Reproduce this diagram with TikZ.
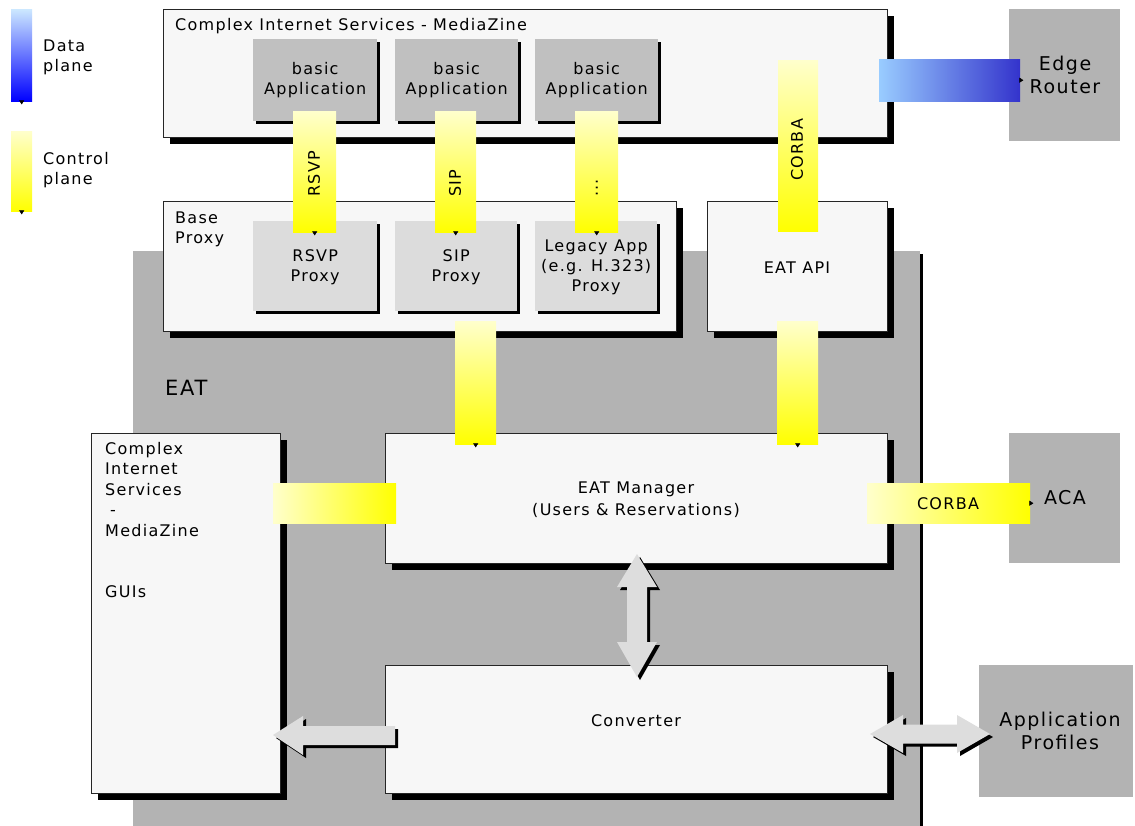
\documentclass[tikz,border=0pt]{standalone}
\usepackage{fontspec}
\setmainfont{DejaVu Sans}[LetterSpace=8]
\usetikzlibrary{shadows,arrows.meta}

\definecolor{boxfill}{HTML}{F7F7F7}
\definecolor{eatgray}{HTML}{B3B3B3}
\definecolor{appgray}{HTML}{C0C0C0}
\definecolor{proxygray}{HTML}{DCDCDC}
\definecolor{arrowgray}{HTML}{DDDDDD}
\definecolor{paleyellow}{HTML}{FFFFCC}
\definecolor{lightblue}{HTML}{99CCFF}
\definecolor{darkblue}{HTML}{3333CC}
\definecolor{skyblue}{HTML}{CCE8FF}
\definecolor{pureblue}{HTML}{0000FF}

\tikzset{
  whitebox/.style={draw=black!85, line width=1.1pt, fill=boxfill, inner sep=0pt,
    anchor=north west, drop shadow={shadow xshift=6pt, shadow yshift=-6pt, opacity=1, fill=black}},
  graybox/.style={fill=#1, inner sep=0pt, anchor=north west,
    drop shadow={shadow xshift=2.5pt, shadow yshift=-2.5pt, opacity=1, fill=black}},
  plainbox/.style={fill=#1, inner sep=0pt, anchor=north west},
  txt/.style={inner sep=0pt, align=center},
  ltxt/.style={inner sep=0pt, align=left},
  bigtxt/.style={inner sep=0pt, align=center, font=\fontsize{19}{23}\selectfont},
  vbar/.style={inner sep=0pt, anchor=north west, top color=paleyellow, bottom color=yellow},
  hbar/.style={inner sep=0pt, anchor=north west, left color=paleyellow, right color=yellow},
  blockarrow/.style={fill=arrowgray, drop shadow={shadow xshift=3pt, shadow yshift=-3pt, opacity=1, fill=black}},
  tipline/.style={-{Triangle[length=4pt,width=5pt]}, line width=0.5pt, black},
}

\begin{document}
\begin{tikzpicture}[x=1pt, y=-1pt, font=\fontsize{16}{20}\selectfont]
\useasboundingbox (0,0) rectangle (1135,825);
\fill[white] (0,0) rectangle (1135,825);

% legend
\node[inner sep=0pt, anchor=north west, top color=skyblue, bottom color=pureblue,
      minimum width=21pt, minimum height=92pt] (legdata) at (11,9) {};
\node[ltxt, anchor=west] (legdatatxt) at (43,57) {Data\\plane};
\node[vbar, minimum width=21pt, minimum height=80pt] (legctrl) at (11,131) {};
\node[ltxt, anchor=west] (legctrltxt) at (43,170) {Control\\plane};
\draw[tipline] (legdata.south) -- ++(0,3);
\draw[tipline] (legctrl.south) -- ++(0,3);

% EAT area
\node[graybox=eatgray, minimum width=787pt, minimum height=580pt] (eat) at (133,251) {};
\node[inner sep=0pt, anchor=west, font=\fontsize{21}{25}\selectfont] (eattxt) at (165,388) {EAT};

% services layer
\node[whitebox, minimum width=724pt, minimum height=128pt] (cis) at (163,9) {};
\node[ltxt, anchor=west] (cistxt) at (175,26) {Complex Internet Services - MediaZine};
\node[graybox=appgray, minimum width=124pt, minimum height=82pt] (app1) at (253,39) {};
\node[graybox=appgray, minimum width=123pt, minimum height=82pt] (app2) at (395,39) {};
\node[graybox=appgray, minimum width=123pt, minimum height=82pt] (app3) at (535,39) {};
\node[txt] at (app1.center) {basic\\Application};
\node[txt] at (app2.center) {basic\\Application};
\node[txt] at (app3.center) {basic\\Application};

% proxy layer
\node[whitebox, minimum width=513pt, minimum height=130pt] (base) at (163,201) {};
\node[ltxt, anchor=west] (basetxt) at (175,229) {Base\\Proxy};
\node[whitebox, minimum width=180pt, minimum height=130pt] (api) at (707,201) {};
\node[txt] at (797,268) {EAT API};
\node[graybox=proxygray, minimum width=124pt, minimum height=90pt] (rsvpp) at (253,221) {};
\node[graybox=proxygray, minimum width=122pt, minimum height=90pt] (sipp) at (395,221) {};
\node[graybox=proxygray, minimum width=122pt, minimum height=90pt] (legp) at (535,221) {};
\node[txt] at ([yshift=-1pt]rsvpp.center) {RSVP\\Proxy};
\node[txt] at ([yshift=-1pt]sipp.center) {SIP\\Proxy};
\node[txt] at ([yshift=-1pt]legp.center) {Legacy App\\(e.g. H.323)\\Proxy};

% core boxes
\node[whitebox, minimum width=189pt, minimum height=360pt] (gui) at (91,433) {};
\node[ltxt, anchor=north west, font=\fontsize{16}{20.5}\selectfont] (guitxt) at (105,442)
  {Complex\\Internet\\Services\\\hspace*{5pt}-\\MediaZine\\[41pt]GUIs};
\node[whitebox, minimum width=502pt, minimum height=130pt] (mgr) at (385,433) {};
\node[txt, font=\fontsize{16}{22}\selectfont] at (636,500) {EAT Manager\\(Users \& Reservations)};
\node[whitebox, minimum width=502pt, minimum height=128pt] (conv) at (385,665) {};
\node[txt] at (636,721) {Converter};

% external boxes
\node[plainbox=eatgray, minimum width=111pt, minimum height=132pt] (edge) at (1009,9) {};
\node[bigtxt] at (1065,75) {Edge\\Router};
\node[plainbox=eatgray, minimum width=111pt, minimum height=130pt] (aca) at (1009,433) {};
\node[bigtxt] at (1065,498) {ACA};
\node[plainbox=eatgray, minimum width=154pt, minimum height=132pt] (prof) at (979,665) {};
\node[bigtxt] at (1060,731) {Application\\Profiles};

% block arrows
\filldraw[blockarrow, draw=none]
  (637,554) -- (657,587) -- (647,587) -- (647,642) -- (657,642) -- (637,677)
  -- (617,642) -- (627,642) -- (627,587) -- (617,587) -- cycle;
\filldraw[blockarrow, draw=none]
  (273,735) -- (303,716) -- (303,726) -- (395,726) -- (395,745) -- (303,745) -- (303,755) -- cycle;
\filldraw[blockarrow, draw=none]
  (870,734) -- (903,715) -- (903,724.5) -- (957,724.5) -- (957,715) -- (990,734)
  -- (957,753) -- (957,743.5) -- (903,743.5) -- (903,753) -- cycle;

% control plane signalling
\node[vbar, minimum width=43pt, minimum height=121pt] (rsvpbar) at (293,111) {};
\node[vbar, minimum width=41pt, minimum height=121pt] (sipbar) at (435,111) {};
\node[vbar, minimum width=43pt, minimum height=121pt] (dotbar) at (575,111) {};
\node[vbar, minimum width=40pt, minimum height=171pt] (corbav) at (778,60) {};
\node[vbar, minimum width=41pt, minimum height=123pt] (midbarA) at (455,321) {};
\node[vbar, minimum width=41pt, minimum height=123pt] (midbarB) at (777,321) {};
\node[hbar, minimum width=123pt, minimum height=40pt] (guibar) at (273,483) {};
\node[hbar, minimum width=163pt, minimum height=40pt] (corbah) at (867,483) {};
\node[inner sep=0pt, rotate=90, anchor=west] at (314,197) {RSVP};
\node[inner sep=0pt, rotate=90, anchor=west] at (455,197) {SIP};
\node[inner sep=0pt, rotate=90, anchor=west] at (597,197) {...};
\node[inner sep=0pt, rotate=90, anchor=west] at (797,181) {CORBA};
\node[txt] at (948,504) {CORBA};
\draw[tipline] (rsvpbar.south) -- ++(0,3);
\draw[tipline] (sipbar.south) -- ++(0,3);
\draw[tipline] (dotbar.south) -- ++(0,3);
\draw[tipline] (midbarA.south) -- ++(0,3);
\draw[tipline] (midbarB.south) -- ++(0,3);
\draw[tipline] (corbah.east) -- ++(3,0);

% data plane
\node[inner sep=0pt, anchor=north west, left color=lightblue, right color=darkblue,
      minimum width=141pt, minimum height=42pt] (databar) at (879,59) {};
\draw[tipline] (databar.east) -- ++(3,0);
\end{tikzpicture}
\end{document}
